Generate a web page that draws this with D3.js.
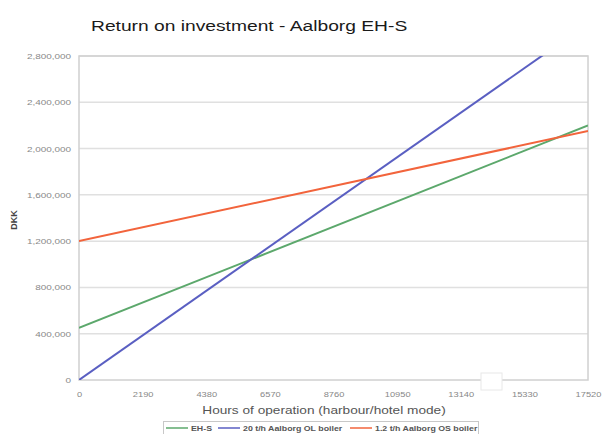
<!DOCTYPE html>
<html>
<head>
<meta charset="utf-8">
<script src="https://cdn.jsdelivr.net/npm/d3@7"></script>
<style>
  body { margin: 0; background: #fff; }
  svg { display: block; font-family: "Liberation Sans", Arial, sans-serif; }
</style>
</head>
<body>
<div id="chart"></div>
<script>
const hours = [0, 17520];
const xTicks = [0, 2190, 4380, 6570, 8760, 10950, 13140, 15330, 17520];
const yTicks = [0, 400000, 800000, 1200000, 1600000, 2000000, 2400000, 2800000];
const ehs = [450000, 2200000];
const olBoiler = [0, 3080000];
const osBoiler = [1200000, 2152000];

const series = [
    { name: 'EH-S', values: ehs, color: '#5ca86c' },
    { name: '20 t/h Aalborg OL boiler', values: olBoiler, color: '#5a5fc2' },
    { name: '1.2 t/h Aalborg OS boiler', values: osBoiler, color: '#f2643c' }
];

const W = 605, H = 434;
const m = { left: 79, right: 17, top: 56, bottom: 54 };
const SX = 1.24; // the picture is a bit wider than its text

// widen each text horizontally, keeping its anchor
function stretch(sel, k) {
    sel.each(function () {
        const len = this.getComputedTextLength();
        d3.select(this).attr('textLength', len * k).attr('lengthAdjust', 'spacingAndGlyphs');
    });
}

const svg = d3.select('#chart').append('svg').attr('width', W).attr('height', H);

const x = d3.scaleLinear().domain([0, 17520]).range([m.left, W - m.right]);
const y = d3.scaleLinear().domain([0, 2800000]).range([H - m.bottom, m.top]);

svg.append('text').attr('x', 91).attr('y', 31).attr('font-size', 15.5)
    .attr('fill', '#1a1a1a').attr('font-family', 'Helvetica, "Liberation Sans", Arial, sans-serif')
    .text('Return on investment - Aalborg EH-S').call(stretch, SX);

// gridlines
svg.append('g').selectAll('line').data(yTicks.slice(1)).enter().append('line')
    .attr('x1', m.left).attr('x2', W - m.right)
    .attr('y1', d => y(d)).attr('y2', d => y(d))
    .attr('stroke', '#e0e0e0').attr('stroke-width', 1.5);

// frame
svg.append('rect').attr('x', m.left).attr('y', m.top)
    .attr('width', W - m.right - m.left).attr('height', H - m.bottom - m.top)
    .attr('fill', 'none').attr('stroke', '#d0d0d0').attr('stroke-width', 1.5);

const yAxis = svg.append('g').attr('transform', `translate(${m.left - 8},0)`)
    .call(d3.axisLeft(y).tickValues(yTicks).tickSize(0).tickPadding(0).tickFormat(d3.format(',')));
yAxis.select('.domain').remove();
yAxis.selectAll('text').attr('font-size', 8).attr('fill', '#888').call(stretch, SX);

const xAxis = svg.append('g').attr('transform', `translate(0,${H - m.bottom + 10})`)
    .call(d3.axisBottom(x).tickValues(xTicks).tickSize(0).tickPadding(2).tickFormat(d3.format('d')));
xAxis.select('.domain').remove();
xAxis.selectAll('text').attr('font-size', 7.5).attr('fill', '#888').call(stretch, SX);

svg.append('text').attr('transform', `translate(17,${(m.top + H - m.bottom) / 2 + 2}) rotate(-90)`)
    .attr('text-anchor', 'middle').attr('font-size', 9).attr('font-weight', 'bold')
    .attr('fill', '#444').text('DKK');

svg.append('text').attr('x', 324).attr('y', 414)
    .attr('text-anchor', 'middle').attr('font-size', 11).attr('fill', '#555')
    .text('Hours of operation (harbour/hotel mode)').call(stretch, SX);

svg.append('clipPath').attr('id', 'clip').append('rect')
    .attr('x', m.left).attr('y', m.top).attr('width', W - m.right - m.left).attr('height', H - m.bottom - m.top);

const line = d3.line().x((d, i) => x(hours[i])).y(d => y(d));
svg.append('g').attr('clip-path', 'url(#clip)').selectAll('path').data(series).enter().append('path')
    .attr('d', d => line(d.values)).attr('fill', 'none')
    .attr('stroke', d => d.color).attr('stroke-width', 2);

// small white patch on the bottom axis
svg.append('rect').attr('x', 481).attr('y', 373).attr('width', 21).attr('height', 17)
    .attr('fill', '#fff').attr('stroke', '#e8e8e8').attr('stroke-width', 1);

// legend
const legend = svg.append('g');
legend.append('rect').attr('x', 163.5).attr('y', 421.5).attr('width', 315).attr('height', 14)
    .attr('fill', '#fff').attr('stroke', '#c8c8c8');
const legX = [166, 218, 350];
series.forEach((s, i) => {
    legend.append('line').attr('x1', legX[i]).attr('x2', legX[i] + 22)
        .attr('y1', 428).attr('y2', 428).attr('stroke', s.color).attr('stroke-width', 1.5);
    legend.append('text').attr('x', legX[i] + 25).attr('y', 431).attr('font-size', 7.1)
        .attr('font-weight', 'bold').attr('fill', '#555').text(s.name).call(stretch, SX);
});
</script>
</body>
</html>
